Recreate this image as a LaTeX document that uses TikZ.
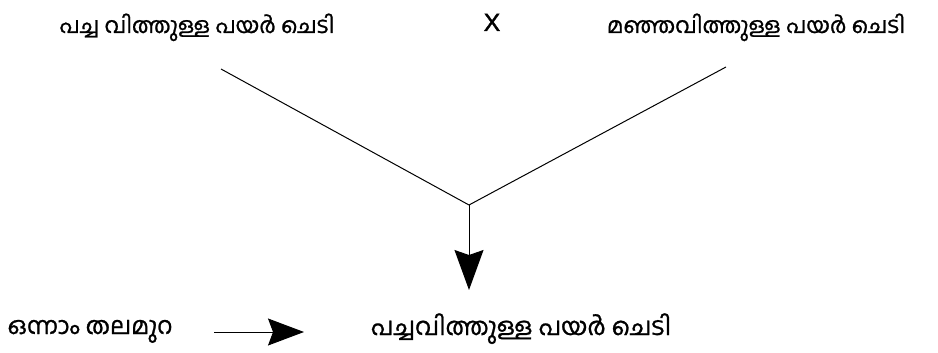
\documentclass[tikz,border=0pt]{standalone}
\usepackage{fontspec}
\newfontfamily\mlfont[Script=Malayalam,FakeBold=1]{Hind Kochi}
\newfontfamily\latfont[FakeBold=1.5]{Liberation Sans}
\usetikzlibrary{arrows.meta}
\begin{document}
\begin{tikzpicture}[x=1pt,y=-1pt,
  mltop/.style={font=\mlfont\fontsize{22}{26}\selectfont, inner sep=0pt, anchor=base},
  mlbot/.style={font=\mlfont\fontsize{24}{28}\selectfont, inner sep=0pt, anchor=base},
  conn/.style={line width=1pt, draw=black},
  bigtip/.style={-{Stealth[length=40pt,width=29pt,inset=5pt]}},
  sidetip/.style={-{Stealth[length=36pt,width=27pt,inset=5pt]}}]
\useasboundingbox (0,0) rectangle (938,353);
\node[mltop] (p1) at (197,33) {പച്ച വിത്തുള്ള പയർ ചെടി};
\node[inner sep=0pt, anchor=base, font=\latfont\fontsize{25}{28}\selectfont] (x) at (492,31) {X};
\node[mltop] (p2) at (756,33) {മഞ്ഞവിത്തുള്ള പയർ ചെടി};
\node[mlbot] (gen) at (90,334) {ഒന്നാം തലമുറ};
\node[mlbot, font=\mlfont\fontsize{24.5}{28}\selectfont] (f1) at (521,335) {പച്ചവിത്തുള്ള പയർ ചെടി};
\coordinate (l1) at (221,69);
\coordinate (r1) at (726,67);
\coordinate (j) at (469,205);
\coordinate (t) at (469,290);
\coordinate (a1) at (214,332);
\coordinate (a2) at (304,332);
\draw[conn] (l1) -- (j);
\draw[conn] (r1) -- (j);
\draw[conn, bigtip] (j) -- (t);
\draw[conn, sidetip] (a1) -- (a2);
\end{tikzpicture}
\end{document}
